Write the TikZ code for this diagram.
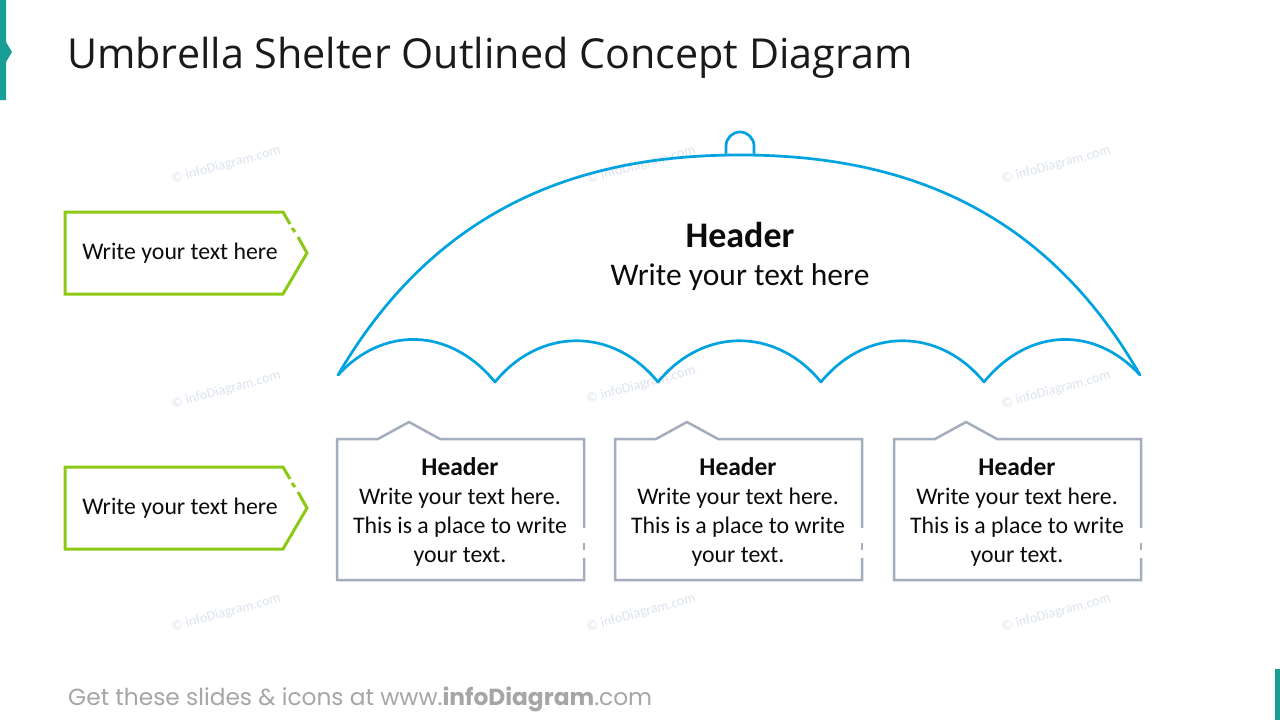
\documentclass[tikz,border=0pt]{standalone}
\usepackage{fontspec}
\setmainfont{Carlito}
\newfontfamily\titlefont{Open Sans}
\newfontfamily\footfont{Poppins}
\usetikzlibrary{positioning,calc}
\definecolor{umbblue}{HTML}{00A3E0}
\definecolor{taggreen}{HTML}{8CC914}
\definecolor{cardgray}{HTML}{A3ADBB}
\definecolor{accteal}{HTML}{169E97}
\definecolor{inkprimary}{HTML}{0B0B0B}
\definecolor{titleink}{HTML}{1A1A1A}
\definecolor{footgray}{HTML}{A6A6A6}
\definecolor{markgray}{HTML}{DCE3EE}
\newcommand{\cardheadfont}{\fontsize{25.5}{29}\selectfont\bfseries}

\begin{document}
\begin{tikzpicture}[
    x=1pt, y=-1pt,
    umb/.style={draw=umbblue, line width=2.7pt, line join=round, line cap=round},
    tag/.style={draw=taggreen, line width=3pt, line join=miter},
    card/.style={draw=cardgray, line width=2.5pt, line join=miter},
    tagtxt/.style={font=\fontsize{23.8}{28}\selectfont, text=inkprimary, inner sep=0pt},
    cardtxt/.style={font=\fontsize{23.8}{29}\selectfont, text=inkprimary, align=center, inner sep=0pt},
    wmark/.style={font=\fontsize{14}{16}\selectfont, text=markgray, rotate=15},
  ]
  \useasboundingbox[fill=white] (0,0) rectangle (1280,720);

  % slide accents and title
  \fill[accteal] (0,0) -- (6,0) -- (6,42) -- (12,52) -- (6,62) -- (6,100) -- (0,100) -- cycle;
  \fill[accteal] (1275,669) rectangle (1280,720);
  \node[anchor=base west, inner sep=0pt, text=titleink,
        font=\titlefont\fontsize{41.3}{48}\selectfont] (title) at (67,68) {Umbrella Shelter Outlined Concept Diagram};

  % watermarks
  \node[wmark] (wm1) at (226,165) {\textcopyright{} infoDiagram.com};
  \node[wmark] (wm2) at (641,165) {\textcopyright{} infoDiagram.com};
  \node[wmark] (wm3) at (1056,165) {\textcopyright{} infoDiagram.com};
  \node[wmark] (wm4) at (226,390) {\textcopyright{} infoDiagram.com};
  \node[wmark] (wm5) at (641,385) {\textcopyright{} infoDiagram.com};
  \node[wmark] (wm6) at (1056,390) {\textcopyright{} infoDiagram.com};
  \node[wmark] (wm7) at (226,613) {\textcopyright{} infoDiagram.com};
  \node[wmark] (wm8) at (641,613) {\textcopyright{} infoDiagram.com};
  \node[wmark] (wm9) at (1056,613) {\textcopyright{} infoDiagram.com};

  % umbrella canopy
  \draw[umb] (338,375) .. controls (440,200) and (590,155) .. (740,155)
             .. controls (890,155) and (1040,200) .. (1140,375);
  \draw[umb] (338,375) .. controls (383,326) and (450,327) .. (495,382)
             .. controls (540,327) and (613,327) .. (658,382)
             .. controls (703,327) and (776,327) .. (821,382)
             .. controls (866,327) and (939,327) .. (984,382)
             .. controls (1029,327) and (1095,326) .. (1140,375);
  \draw[umb] (726,155) -- (726,146) arc(180:360:14) -- (754,155);
  \node[font=\fontsize{36}{40}\selectfont\bfseries, text=inkprimary] (umbhead) at (740,235) {Header};
  \node[font=\fontsize{31.5}{36}\selectfont, text=inkprimary] (umbtext) at (740,277) {Write your text here};

  % green tags on the left
  \draw[tag] (290,224) -- (283,212) -- (65,212) -- (65,294) -- (283,294) -- (307,253) -- (298,237);
  \draw[tag] (295,232) -- (292,228);
  \node[tagtxt] (tagA) at (180,253) {Write your text here};
  \draw[tag] (290,479) -- (283,467) -- (65,467) -- (65,549) -- (283,549) -- (307,508) -- (298,492);
  \draw[tag] (295,487) -- (292,483);
  \node[tagtxt] (tagB) at (180,508) {Write your text here};

  % cards under the umbrella
  \draw[card] (584,558) -- (584,580) -- (337,580) -- (337,439) -- (378,439) -- (409,422) -- (440,439) -- (584,439) -- (584,528);
  \draw[card] (584,543) -- (584,550);
  \node[cardtxt] (cardA) at (460,512) {{\cardheadfont Header}\\Write your text here.\\This is a place to write\\your text.};
  \begin{scope}[xshift=278pt]
    \draw[card] (584,558) -- (584,580) -- (337,580) -- (337,439) -- (378,439) -- (409,422) -- (440,439) -- (584,439) -- (584,528);
    \draw[card] (584,543) -- (584,550);
    \node[cardtxt] (cardB) at (460,512) {{\cardheadfont Header}\\Write your text here.\\This is a place to write\\your text.};
  \end{scope}
  \begin{scope}[xshift=557pt]
    \draw[card] (584,558) -- (584,580) -- (337,580) -- (337,439) -- (378,439) -- (409,422) -- (440,439) -- (584,439) -- (584,528);
    \draw[card] (584,543) -- (584,550);
    \node[cardtxt] (cardC) at (460,512) {{\cardheadfont Header}\\Write your text here.\\This is a place to write\\your text.};
  \end{scope}

  % footer
  \node[anchor=base west, inner sep=0pt, text=footgray,
        font=\footfont\fontsize{23.3}{28}\selectfont] (footer) at (68,705) {Get these slides \& icons at www.\textbf{infoDiagram}.com};
\end{tikzpicture}
\end{document}
